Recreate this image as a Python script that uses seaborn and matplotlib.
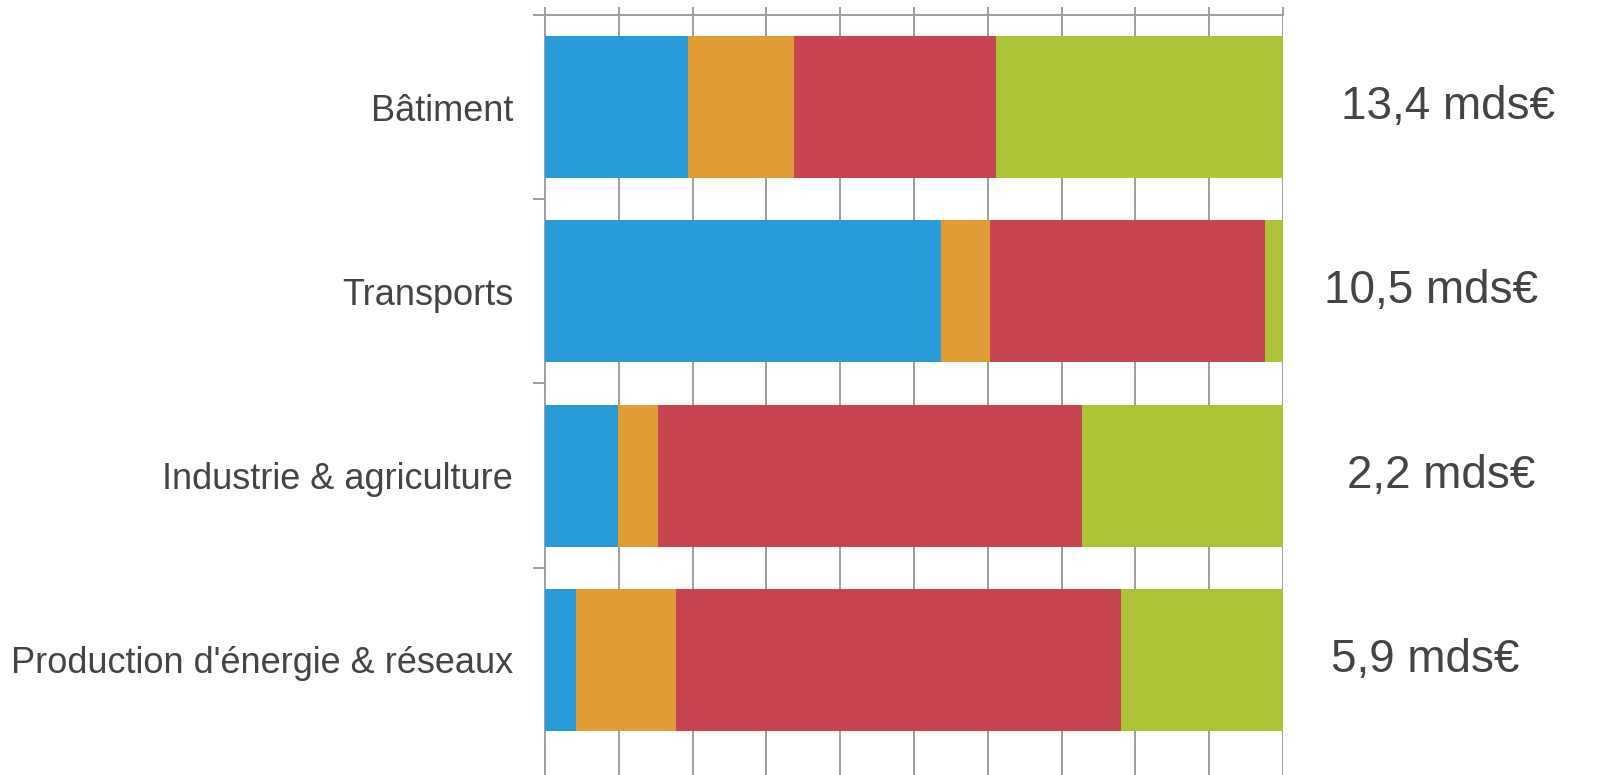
import matplotlib
matplotlib.use("Agg")
import matplotlib.pyplot as plt
import seaborn as sns
import numpy as np
import pandas as pd

categories = ["Bâtiment", "Transports", "Industrie & agriculture", "Production d'énergie & réseaux"]
blue_share = [19.4, 53.7, 9.9, 4.2]
orange_share = [14.3, 6.6, 5.4, 13.6]
red_share = [27.4, 37.3, 57.5, 60.2]
green_share = [38.9, 2.4, 27.2, 22.0]
totals = ["13,4 mds€", "10,5 mds€", "2,2 mds€", "5,9 mds€"]

colors = ["#2a9bd9", "#e09d36", "#c94451", "#aec437"]
label_x = [122.4, 120.0, 121.4, 119.3]

sns.set_theme(style="white")
plt.rcParams['font.family'] = ['Liberation Sans', 'DejaVu Sans']

df = pd.DataFrame({"cat": categories, "b": blue_share, "o": orange_share,
                   "r": red_share, "g": green_share})
cum = df[["b", "o", "r", "g"]].cumsum(axis=1)

fig = plt.figure(figsize=(16.22, 7.75), dpi=100)
ax = fig.add_axes([545 / 1622, 0.0, (1283 - 545) / 1622, 1 - 15 / 775])

grid_c = "#a0a0a0"
for col, c in zip(["g", "r", "o", "b"], colors[::-1]):
    sns.barplot(x=cum[col], y=df["cat"], orient="h", color=c, width=0.77,
                linewidth=0, saturation=1, ax=ax, zorder=3)

ax.set_xlim(0, 100)
ax.set_ylim(3.625, -0.5)
ax.set_xlabel("")
ax.set_ylabel("")

ax.set_xticks(np.arange(0, 101, 10))
ax.xaxis.tick_top()
ax.tick_params(axis="x", which="major", direction="out", length=5.8, width=1.44,
               color=grid_c, labeltop=False, labelbottom=False, top=True, bottom=False)
ax.grid(axis="x", color=grid_c, linewidth=1.44, zorder=0)
ax.grid(axis="y", visible=False)
ax.set_axisbelow(True)

ax.set_yticks(range(len(categories)))
ax.set_yticklabels(categories)
ax.set_yticks([-0.5, 0.5, 1.5, 2.5], minor=True)
ax.tick_params(axis="y", which="major", length=0, pad=23, labelsize=26, labelcolor="#444444")
ax.tick_params(axis="y", which="minor", left=True, direction="out", length=8.6,
               width=1.44, color=grid_c)

for s in ["right", "bottom"]:
    ax.spines[s].set_visible(False)
for s in ["top", "left"]:
    ax.spines[s].set_visible(True)
    ax.spines[s].set_color(grid_c)
    ax.spines[s].set_linewidth(1.44)

for i, t in enumerate(totals):
    ax.text(label_x[i], i, t, ha="center", va="center", fontsize=33,
            color="#444444", clip_on=False)

fig.savefig("out.png", dpi=100)
